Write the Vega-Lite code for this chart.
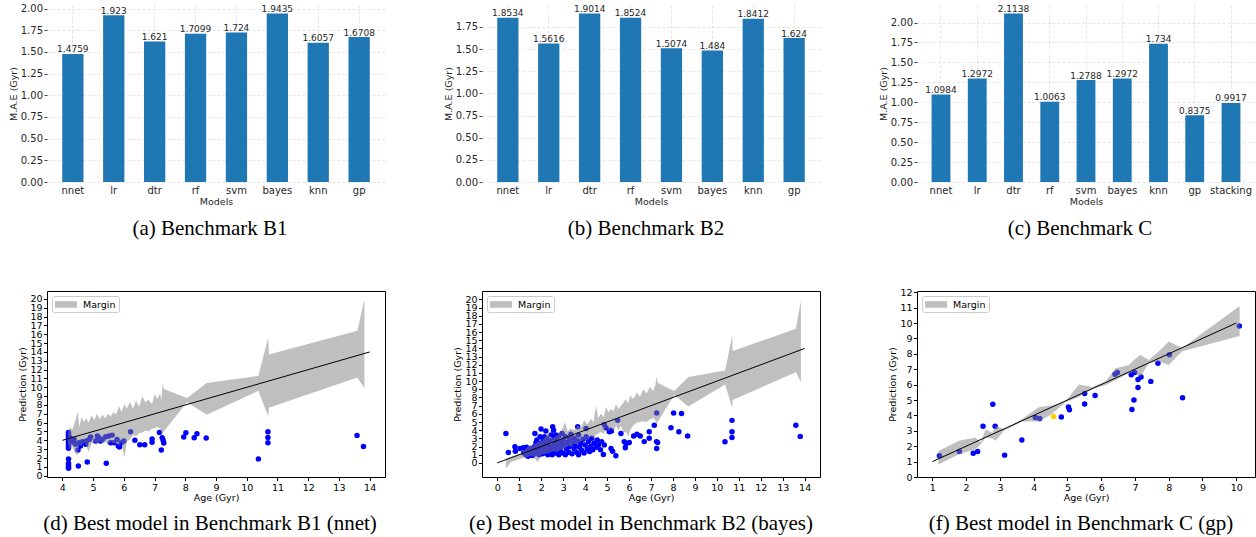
{
"$schema": "https://vega.github.io/schema/vega-lite/v6.json",
"background": "white",
"padding": {"left": 8, "top": 3, "right": 0, "bottom": 0},
"bounds": "flush",
"columns": 3,
"spacing": {"row": 109, "column": 97},
"resolve": {"scale": {"fill": "independent", "color": "independent"}, "legend": {"fill": "independent", "color": "independent"}},
"datasets": {
"barsA": [{"model":"nnet","mae":1.4759},{"model":"lr","mae":1.923},{"model":"dtr","mae":1.621},{"model":"rf","mae":1.7099},{"model":"svm","mae":1.724},{"model":"bayes","mae":1.9435},{"model":"knn","mae":1.6057},{"model":"gp","mae":1.6708}],
"barsB": [{"model":"nnet","mae":1.8534},{"model":"lr","mae":1.5616},{"model":"dtr","mae":1.9014},{"model":"rf","mae":1.8524},{"model":"svm","mae":1.5074},{"model":"bayes","mae":1.484},{"model":"knn","mae":1.8412},{"model":"gp","mae":1.624}],
"barsC": [{"model":"nnet","mae":1.0984},{"model":"lr","mae":1.2972},{"model":"dtr","mae":2.1138},{"model":"rf","mae":1.0063},{"model":"svm","mae":1.2788},{"model":"bayes","mae":1.2972},{"model":"knn","mae":1.734},{"model":"gp","mae":0.8375},{"model":"stacking","mae":0.9917}],
"ptsD": [{"x":4.2,"y":4.9},{"x":4.2,"y":4.7},{"x":4.2,"y":4.5},{"x":4.2,"y":4.3},{"x":4.2,"y":4.1},{"x":4.2,"y":3.9},{"x":4.2,"y":3.7},{"x":4.2,"y":3.5},{"x":4.2,"y":3.3},{"x":4.2,"y":3.1},{"x":4.2,"y":1.9},{"x":4.2,"y":1.4},{"x":4.2,"y":1.15},{"x":4.2,"y":0.95},{"x":4.2,"y":0.85},{"x":4.25,"y":4.3},{"x":4.3,"y":4.0},{"x":4.35,"y":3.8},{"x":4.27,"y":3.92},{"x":4.38,"y":4.1},{"x":4.43,"y":3.55},{"x":4.54,"y":3.73},{"x":4.59,"y":3.35},{"x":4.65,"y":3.84},{"x":4.76,"y":3.55},{"x":4.78,"y":3.92},{"x":4.87,"y":4.1},{"x":4.92,"y":4.37},{"x":5.08,"y":3.92},{"x":5.14,"y":4.48},{"x":5.19,"y":4.29},{"x":5.24,"y":3.92},{"x":5.3,"y":4.1},{"x":5.41,"y":4.4},{"x":5.51,"y":4.48},{"x":5.57,"y":3.73},{"x":5.62,"y":4.59},{"x":5.68,"y":3.73},{"x":5.78,"y":4.1},{"x":5.82,"y":3.35},{"x":5.86,"y":3.24},{"x":5.92,"y":3.73},{"x":6.0,"y":3.92},{"x":4.51,"y":2.9},{"x":4.52,"y":1.1},{"x":4.81,"y":1.55},{"x":5.43,"y":1.4},{"x":6.22,"y":4.97},{"x":6.36,"y":4.0},{"x":6.52,"y":3.5},{"x":6.68,"y":3.5},{"x":6.92,"y":3.77},{"x":6.92,"y":4.14},{"x":7.16,"y":4.9},{"x":7.22,"y":2.9},{"x":7.25,"y":4.3},{"x":7.3,"y":3.7},{"x":7.28,"y":4.0},{"x":7.95,"y":4.37},{"x":8.02,"y":4.86},{"x":8.29,"y":4.3},{"x":8.38,"y":4.74},{"x":8.68,"y":4.27},{"x":10.38,"y":1.9},{"x":10.69,"y":4.97},{"x":10.69,"y":4.33},{"x":10.69,"y":3.73},{"x":13.59,"y":4.56},{"x":13.8,"y":3.3}],
"bandD": [{"x":4.18,"y":3.6,"y2":4.9},{"x":4.25,"y":2.9,"y2":5.5},{"x":4.32,"y":3.3,"y2":5.2},{"x":4.4,"y":2.6,"y2":6.0},{"x":4.5,"y":2.3,"y2":7.2},{"x":4.55,"y":3.5,"y2":5.5},{"x":4.62,"y":3.3,"y2":6.6},{"x":4.7,"y":3.8,"y2":6.1},{"x":4.78,"y":3.4,"y2":6.5},{"x":4.85,"y":2.7,"y2":6.0},{"x":4.95,"y":3.6,"y2":6.8},{"x":5.05,"y":3.8,"y2":6.3},{"x":5.12,"y":3.5,"y2":7.0},{"x":5.22,"y":3.9,"y2":6.4},{"x":5.3,"y":3.6,"y2":6.9},{"x":5.4,"y":3.8,"y2":6.5},{"x":5.48,"y":3.5,"y2":7.0},{"x":5.58,"y":3.9,"y2":6.7},{"x":5.66,"y":3.6,"y2":7.2},{"x":5.75,"y":3.7,"y2":6.9},{"x":5.84,"y":3.4,"y2":7.9},{"x":5.92,"y":3.8,"y2":7.2},{"x":6.02,"y":2.0,"y2":8.1},{"x":6.1,"y":3.9,"y2":7.6},{"x":6.2,"y":4.1,"y2":8.3},{"x":6.3,"y":4.6,"y2":7.6},{"x":6.4,"y":4.5,"y2":8.5},{"x":6.5,"y":4.8,"y2":7.8},{"x":6.6,"y":4.9,"y2":9.0},{"x":6.7,"y":5.1,"y2":8.3},{"x":6.8,"y":5.0,"y2":8.6},{"x":6.92,"y":5.3,"y2":8.1},{"x":7.0,"y":5.4,"y2":9.2},{"x":7.1,"y":5.5,"y2":8.7},{"x":7.18,"y":5.4,"y2":9.3},{"x":7.22,"y":4.6,"y2":8.5},{"x":7.26,"y":4.8,"y2":10.4},{"x":7.3,"y":5.0,"y2":9.8},{"x":8.06,"y":8.3,"y2":8.8},{"x":8.7,"y":6.9,"y2":10.5},{"x":10.38,"y":9.6,"y2":11.3},{"x":10.7,"y":6.7,"y2":15.6},{"x":10.72,"y":7.7,"y2":13.7},{"x":13.6,"y":11.1,"y2":16.4},{"x":13.83,"y":9.9,"y2":19.9}],
"lineD": [{"x":4,"y":4},{"x":14,"y":14}],
"ptsE": [{"x":0.39,"y":3.6},{"x":0.5,"y":1.27},{"x":0.8,"y":1.96},{"x":0.82,"y":1.43},{"x":1.03,"y":1.76},{"x":1.18,"y":1.84},{"x":1.33,"y":1.92},{"x":1.53,"y":1.35},{"x":1.71,"y":3.6},{"x":1.76,"y":2.5},{"x":1.99,"y":4.15},{"x":2.21,"y":3.9},{"x":2.14,"y":3.2},{"x":2.52,"y":4.43},{"x":2.56,"y":4.0},{"x":2.67,"y":3.4},{"x":3.66,"y":4.43},{"x":4.04,"y":4.2},{"x":4.87,"y":4.7},{"x":4.95,"y":4.3},{"x":5.1,"y":3.8},{"x":5.15,"y":4.0},{"x":5.2,"y":3.9},{"x":5.48,"y":5.2},{"x":5.63,"y":3.6},{"x":5.78,"y":2.6},{"x":5.86,"y":2.3},{"x":4.83,"y":1.02},{"x":5.4,"y":0.86},{"x":5.18,"y":1.76},{"x":5.25,"y":1.43},{"x":4.87,"y":2.2},{"x":5.83,"y":1.84},{"x":6.01,"y":2.5},{"x":6.21,"y":3.3},{"x":6.36,"y":3.5},{"x":6.51,"y":3.3},{"x":6.69,"y":2.6},{"x":6.92,"y":3.0},{"x":6.92,"y":3.8},{"x":7.15,"y":4.6},{"x":7.26,"y":6.1},{"x":7.25,"y":2.6},{"x":7.3,"y":2.5},{"x":7.26,"y":1.76},{"x":7.91,"y":4.3},{"x":8.03,"y":6.1},{"x":8.27,"y":3.8},{"x":8.39,"y":6.05},{"x":8.67,"y":3.3},{"x":10.37,"y":2.58},{"x":10.69,"y":5.2},{"x":10.69,"y":3.8},{"x":10.69,"y":3.1},{"x":13.6,"y":4.6},{"x":13.8,"y":3.24},
{"x":1.2,"y":1.2},{"x":1.3,"y":1.0},{"x":1.35,"y":1.5},{"x":1.4,"y":0.8},{"x":1.45,"y":1.3},{"x":1.5,"y":1.0},{"x":1.55,"y":1.8},{"x":1.6,"y":1.2},{"x":1.6,"y":0.9},{"x":1.65,"y":1.5},{"x":1.7,"y":2.0},{"x":1.7,"y":1.1},{"x":1.75,"y":1.6},{"x":1.8,"y":2.8},{"x":1.8,"y":1.3},{"x":1.85,"y":2.2},{"x":1.9,"y":1.0},{"x":1.9,"y":1.8},{"x":1.95,"y":3.2},{"x":2.0,"y":2.4},{"x":2.0,"y":1.4},{"x":2.05,"y":1.1},{"x":2.1,"y":2.0},{"x":2.1,"y":2.8},{"x":2.15,"y":1.6},{"x":2.2,"y":1.2},{"x":2.2,"y":2.5},{"x":2.25,"y":3.0},{"x":2.3,"y":1.0},{"x":2.3,"y":2.2},{"x":2.35,"y":1.7},{"x":2.4,"y":1.3},{"x":2.4,"y":2.7},{"x":2.45,"y":3.4},{"x":2.5,"y":1.0},{"x":2.5,"y":2.0},{"x":2.55,"y":1.5},{"x":2.6,"y":2.4},{"x":2.6,"y":3.0},{"x":2.65,"y":1.2},{"x":2.7,"y":1.8},{"x":2.7,"y":2.8},{"x":2.75,"y":2.2},{"x":2.8,"y":1.0},{"x":2.8,"y":3.3},{"x":2.85,"y":1.5},{"x":2.9,"y":2.5},{"x":2.9,"y":1.9},{"x":2.95,"y":3.6},{"x":3.0,"y":1.2},{"x":3.0,"y":2.8},{"x":3.05,"y":2.2},{"x":3.1,"y":1.0},{"x":3.1,"y":3.2},{"x":3.15,"y":1.7},{"x":3.2,"y":2.5},{"x":3.25,"y":1.3},{"x":3.3,"y":2.9},{"x":3.3,"y":2.0},{"x":3.35,"y":3.5},{"x":3.4,"y":1.1},{"x":3.45,"y":2.4},{"x":3.5,"y":1.7},{"x":3.5,"y":3.0},{"x":3.55,"y":2.1},{"x":3.6,"y":1.3},{"x":3.65,"y":2.7},{"x":3.7,"y":1.0},{"x":3.7,"y":3.4},{"x":3.75,"y":1.9},{"x":3.8,"y":2.4},{"x":3.85,"y":1.5},{"x":3.9,"y":2.9},{"x":3.95,"y":1.2},{"x":4.0,"y":2.2},{"x":4.05,"y":3.2},{"x":4.1,"y":1.7},{"x":4.15,"y":2.6},{"x":4.2,"y":1.4},{"x":4.25,"y":2.0},{"x":4.3,"y":3.0},{"x":4.35,"y":1.6},{"x":4.4,"y":2.4},{"x":4.5,"y":1.9},{"x":4.55,"y":2.8},{"x":4.6,"y":2.2},{"x":4.7,"y":1.6},{"x":4.75,"y":2.6}],
"bandE": [{"x":0.39,"y":-0.7,"y2":0.53},{"x":0.62,"y":0.12,"y2":0.74},{"x":1.08,"y":0.53,"y2":1.15},{"x":1.38,"y":0.74,"y2":1.97},{"x":1.6,"y":0.9,"y2":2.1},{"x":1.84,"y":0.12,"y2":2.58},{"x":2.0,"y":1.0,"y2":2.6},{"x":2.29,"y":1.15,"y2":3.6},{"x":2.5,"y":1.4,"y2":3.0},{"x":2.75,"y":1.36,"y2":3.4},{"x":2.9,"y":1.6,"y2":3.8},{"x":3.08,"y":1.77,"y2":4.96},{"x":3.2,"y":2.1,"y2":3.9},{"x":3.35,"y":1.97,"y2":4.2},{"x":3.5,"y":2.3,"y2":4.0},{"x":3.66,"y":2.38,"y2":4.6},{"x":3.8,"y":2.6,"y2":4.3},{"x":3.96,"y":2.8,"y2":5.2},{"x":4.1,"y":3.0,"y2":4.7},{"x":4.26,"y":3.2,"y2":5.4},{"x":4.38,"y":3.0,"y2":5.0},{"x":4.49,"y":3.4,"y2":7.0},{"x":4.6,"y":3.6,"y2":5.5},{"x":4.72,"y":3.8,"y2":6.0},{"x":4.85,"y":3.5,"y2":5.6},{"x":4.95,"y":4.43,"y2":6.8},{"x":5.06,"y":3.9,"y2":6.2},{"x":5.18,"y":4.2,"y2":6.6},{"x":5.3,"y":3.8,"y2":6.3},{"x":5.4,"y":4.6,"y2":7.2},{"x":5.52,"y":4.0,"y2":6.6},{"x":5.63,"y":4.55,"y2":7.0},{"x":5.75,"y":3.7,"y2":7.4},{"x":5.86,"y":3.8,"y2":7.8},{"x":5.95,"y":3.2,"y2":7.2},{"x":6.05,"y":4.0,"y2":8.2},{"x":6.2,"y":4.6,"y2":7.8},{"x":6.35,"y":4.9,"y2":8.6},{"x":6.5,"y":5.0,"y2":8.1},{"x":6.65,"y":5.1,"y2":9.0},{"x":6.8,"y":5.0,"y2":8.5},{"x":6.95,"y":5.3,"y2":9.3},{"x":7.1,"y":5.5,"y2":8.8},{"x":7.2,"y":5.2,"y2":9.5},{"x":7.26,"y":4.8,"y2":10.6},{"x":7.3,"y":5.0,"y2":9.8},{"x":8.06,"y":8.3,"y2":8.8},{"x":8.7,"y":6.9,"y2":10.5},{"x":10.38,"y":9.6,"y2":11.3},{"x":10.7,"y":6.7,"y2":15.6},{"x":10.72,"y":7.7,"y2":13.7},{"x":13.6,"y":11.1,"y2":16.4},{"x":13.83,"y":9.9,"y2":19.9}],
"lineE": [{"x":0,"y":0},{"x":14,"y":14}],
"ptsF": [{"x":1.21,"y":1.38,"kind":"test"},{"x":1.8,"y":1.65,"kind":"test"},{"x":2.21,"y":1.54,"kind":"test"},{"x":2.34,"y":1.65,"kind":"test"},{"x":2.5,"y":3.29,"kind":"test"},{"x":2.79,"y":4.72,"kind":"test"},{"x":2.86,"y":3.3,"kind":"test"},{"x":3.14,"y":1.42,"kind":"test"},{"x":3.65,"y":2.41,"kind":"test"},{"x":4.05,"y":3.86,"kind":"test"},{"x":4.18,"y":3.8,"kind":"test"},{"x":4.59,"y":3.93,"kind":"highlight"},{"x":4.82,"y":3.9,"kind":"test"},{"x":5.03,"y":4.54,"kind":"test"},{"x":5.06,"y":4.37,"kind":"test"},{"x":5.51,"y":4.74,"kind":"test"},{"x":5.51,"y":5.42,"kind":"test"},{"x":5.82,"y":5.29,"kind":"test"},{"x":6.41,"y":6.67,"kind":"test"},{"x":6.48,"y":6.78,"kind":"test"},{"x":6.89,"y":6.64,"kind":"test"},{"x":6.99,"y":6.78,"kind":"test"},{"x":6.91,"y":4.39,"kind":"test"},{"x":6.97,"y":5.0,"kind":"test"},{"x":7.09,"y":6.33,"kind":"test"},{"x":7.18,"y":6.5,"kind":"test"},{"x":7.09,"y":5.82,"kind":"test"},{"x":7.47,"y":6.21,"kind":"test"},{"x":7.68,"y":7.39,"kind":"test"},{"x":8.02,"y":7.94,"kind":"test"},{"x":8.41,"y":5.15,"kind":"test"},{"x":10.09,"y":9.8,"kind":"test"}],
"bandF": [{"x":1.18,"y":0.81,"y2":1.69},{"x":1.79,"y":1.47,"y2":2.35},{"x":2.28,"y":1.8,"y2":2.57},{"x":2.43,"y":2.13,"y2":2.24},{"x":2.58,"y":2.57,"y2":3.1},{"x":2.78,"y":2.5,"y2":2.85},{"x":2.87,"y":2.35,"y2":3.33},{"x":3.12,"y":3.0,"y2":3.1},{"x":3.66,"y":3.6,"y2":3.77},{"x":4.16,"y":3.6,"y2":4.54},{"x":4.55,"y":4.1,"y2":4.65},{"x":4.94,"y":4.85,"y2":4.9},{"x":5.34,"y":5.2,"y2":6.0},{"x":5.73,"y":5.75,"y2":5.85},{"x":6.13,"y":5.96,"y2":6.2},{"x":6.42,"y":6.3,"y2":7.06},{"x":6.82,"y":6.73,"y2":7.28},{"x":6.97,"y":6.84,"y2":7.6},{"x":7.16,"y":6.5,"y2":7.94},{"x":7.41,"y":7.4,"y2":7.6},{"x":7.71,"y":7.5,"y2":8.16},{"x":8.0,"y":7.28,"y2":8.8},{"x":8.4,"y":8.16,"y2":8.38},{"x":10.1,"y":9.15,"y2":11.1}],
"lineF": [{"x":1,"y":1},{"x":10,"y":10}]
},
"concat": [
{
 "width": 338, "height": 177,
 "data": {"name": "barsA"},
 "encoding": {
  "x": {"field": "model", "type": "nominal", "sort": null, "scale": {"paddingInner": 0.48, "paddingOuter": 0.372},
        "axis": {"title": "Models", "labelAngle": 0, "ticks": false, "tickSize": 0, "domain": false, "grid": true, "gridDash": [3,2], "gridColor": "#dddddd", "gridWidth": 0.8, "labelPadding": 3, "labelFontSize": 10, "labelColor": "#262626", "titleColor": "#262626", "titlePadding": 1}},
  "y": {"field": "mae", "type": "quantitative", "scale": {"domain": [0, 2.0407], "nice": false},
        "axis": {"title": "M.A.E (Gyr)", "values": [0,0.25,0.5,0.75,1,1.25,1.5,1.75,2], "format": ".2f", "grid": true, "gridDash": [3,2], "gridColor": "#dddddd", "gridWidth": 0.8, "domain": false, "tickSize": 3, "tickColor": "#444444", "labelPadding": 1.5, "labelFontSize": 10, "labelOverlap": false, "labelColor": "#262626", "titleColor": "#262626", "titlePadding": 2}}
 },
 "layer": [
  {"mark": {"type": "bar", "color": "#1f77b4"}},
  {"mark": {"type": "text", "baseline": "alphabetic", "dy": -1.5, "fontSize": 9, "color": "#262626"}, "encoding": {"text": {"field": "mae", "type": "nominal"}}}
 ],
 "title": {"text": "(a) Benchmark B1", "orient": "bottom", "anchor": "middle", "frame": "group", "dx": -6, "offset": 12}
},
{
 "width": 338, "height": 177,
 "data": {"name": "barsB"},
 "encoding": {
  "x": {"field": "model", "type": "nominal", "sort": null, "scale": {"paddingInner": 0.48, "paddingOuter": 0.372},
        "axis": {"title": "Models", "labelAngle": 0, "ticks": false, "tickSize": 0, "domain": false, "grid": true, "gridDash": [3,2], "gridColor": "#dddddd", "gridWidth": 0.8, "labelPadding": 3, "labelFontSize": 10, "labelColor": "#262626", "titleColor": "#262626", "titlePadding": 1}},
  "y": {"field": "mae", "type": "quantitative", "scale": {"domain": [0, 1.9965], "nice": false},
        "axis": {"title": "M.A.E (Gyr)", "values": [0,0.25,0.5,0.75,1,1.25,1.5,1.75], "format": ".2f", "grid": true, "gridDash": [3,2], "gridColor": "#dddddd", "gridWidth": 0.8, "domain": false, "tickSize": 3, "tickColor": "#444444", "labelPadding": 1.5, "labelFontSize": 10, "labelOverlap": false, "labelColor": "#262626", "titleColor": "#262626", "titlePadding": 2}}
 },
 "layer": [
  {"mark": {"type": "bar", "color": "#1f77b4"}},
  {"mark": {"type": "text", "baseline": "alphabetic", "dy": -1.5, "fontSize": 9, "color": "#262626"}, "encoding": {"text": {"field": "mae", "type": "nominal"}}}
 ],
 "title": {"text": "(b) Benchmark B2", "orient": "bottom", "anchor": "middle", "frame": "group", "dx": -5, "offset": 12}
},
{
 "width": 338, "height": 177,
 "data": {"name": "barsC"},
 "encoding": {
  "x": {"field": "model", "type": "nominal", "sort": null, "scale": {"paddingInner": 0.48, "paddingOuter": 0.402},
        "axis": {"title": "Models", "labelAngle": 0, "ticks": false, "tickSize": 0, "domain": false, "grid": true, "gridDash": [3,2], "gridColor": "#dddddd", "gridWidth": 0.8, "labelPadding": 3, "labelFontSize": 10, "labelColor": "#262626", "titleColor": "#262626", "titlePadding": 1}},
  "y": {"field": "mae", "type": "quantitative", "scale": {"domain": [0, 2.2195], "nice": false},
        "axis": {"title": "M.A.E (Gyr)", "values": [0,0.25,0.5,0.75,1,1.25,1.5,1.75,2], "format": ".2f", "grid": true, "gridDash": [3,2], "gridColor": "#dddddd", "gridWidth": 0.8, "domain": false, "tickSize": 3, "tickColor": "#444444", "labelPadding": 1.5, "labelFontSize": 10, "labelOverlap": false, "labelColor": "#262626", "titleColor": "#262626", "titlePadding": 2}}
 },
 "layer": [
  {"mark": {"type": "bar", "color": "#1f77b4"}},
  {"mark": {"type": "text", "baseline": "alphabetic", "dy": -1.5, "fontSize": 9, "color": "#262626"}, "encoding": {"text": {"field": "mae", "type": "nominal"}}}
 ],
 "title": {"text": "(c) Benchmark C", "orient": "bottom", "anchor": "middle", "frame": "group", "dx": -6, "offset": 12}
},
{
 "width": 338, "height": 186,
 "view": {"stroke": "black", "strokeWidth": 1},
 "encoding": {
  "x": {"field": "x", "type": "quantitative", "scale": {"domain": [3.5, 14.5], "nice": false, "zero": false},
        "axis": {"title": "Age (Gyr)", "values": [4,5,6,7,8,9,10,11,12,13,14], "labelOverlap": false, "labelFlush": false, "labelBound": false, "tickSize": 3.5, "tickColor": "black", "labelPadding": 1.5, "labelColor": "black", "titleColor": "black", "titlePadding": 1, "grid": false, "domain": false}},
  "y": {"field": "y", "type": "quantitative", "scale": {"domain": [-0.15, 20.9], "nice": false, "zero": false},
        "axis": {"title": "Prediction (Gyr)", "values": [0,1,2,3,4,5,6,7,8,9,10,11,12,13,14,15,16,17,18,19,20], "labelOverlap": false, "labelFlush": false, "labelBound": false, "tickSize": 3.5, "tickColor": "black", "labelPadding": 1.5, "labelColor": "black", "titleColor": "black", "titlePadding": 2, "grid": false, "domain": false}}
 },
 "layer": [
  {"data": {"name": "ptsD"}, "mark": {"type": "circle", "size": 30, "opacity": 1, "color": "#0000ff"}},
  {"data": {"name": "bandD"}, "mark": {"type": "area", "opacity": 0.5},
   "encoding": {
    "y2": {"field": "y2"},
    "fill": {"datum": "Margin", "type": "nominal", "scale": {"range": ["#808080"]}, "legend": {"title": null, "orient": "top-left", "offset": 5, "padding": 3, "strokeColor": "#cccccc", "fillColor": "white", "cornerRadius": 2, "symbolType": "M-1,-0.6H3V0.6H-1Z", "symbolSize": 121, "symbolOpacity": 0.5, "symbolStrokeWidth": 0, "labelFontSize": 9.5, "labelColor": "black", "labelOffset": 17}}
   }},
  {"data": {"name": "lineD"}, "mark": {"type": "line", "color": "black", "strokeWidth": 1}, "encoding": {}}
 ],
 "title": {"text": "(d) Best model in Benchmark B1 (nnet)", "orient": "bottom", "anchor": "middle", "frame": "group", "dx": -6, "offset": 11}
},
{
 "width": 338, "height": 186,
 "view": {"stroke": "black", "strokeWidth": 1},
 "encoding": {
  "x": {"field": "x", "type": "quantitative", "scale": {"domain": [-0.7, 14.7], "nice": false, "zero": false},
        "axis": {"title": "Age (Gyr)", "values": [0,1,2,3,4,5,6,7,8,9,10,11,12,13,14], "labelOverlap": false, "labelFlush": false, "labelBound": false, "tickSize": 3.5, "tickColor": "black", "labelPadding": 1.5, "labelColor": "black", "titleColor": "black", "titlePadding": 1, "grid": false, "domain": false}},
  "y": {"field": "y", "type": "quantitative", "scale": {"domain": [-1.73, 21.03], "nice": false, "zero": false},
        "axis": {"title": "Prediction (Gyr)", "values": [0,1,2,3,4,5,6,7,8,9,10,11,12,13,14,15,16,17,18,19,20], "labelOverlap": false, "labelFlush": false, "labelBound": false, "tickSize": 3.5, "tickColor": "black", "labelPadding": 1.5, "labelColor": "black", "titleColor": "black", "titlePadding": 2, "grid": false, "domain": false}}
 },
 "layer": [
  {"data": {"name": "ptsE"}, "mark": {"type": "circle", "size": 30, "opacity": 1, "color": "#0000ff"}},
  {"data": {"name": "bandE"}, "mark": {"type": "area", "opacity": 0.5},
   "encoding": {
    "y2": {"field": "y2"},
    "fill": {"datum": "Margin", "type": "nominal", "scale": {"range": ["#808080"]}, "legend": {"title": null, "orient": "top-left", "offset": 5, "padding": 3, "strokeColor": "#cccccc", "fillColor": "white", "cornerRadius": 2, "symbolType": "M-1,-0.6H3V0.6H-1Z", "symbolSize": 121, "symbolOpacity": 0.5, "symbolStrokeWidth": 0, "labelFontSize": 9.5, "labelColor": "black", "labelOffset": 17}}
   }},
  {"data": {"name": "lineE"}, "mark": {"type": "line", "color": "black", "strokeWidth": 1}, "encoding": {}}
 ],
 "title": {"text": "(e) Best model in Benchmark B2 (bayes)", "orient": "bottom", "anchor": "middle", "frame": "group", "dx": -10, "offset": 11}
},
{
 "width": 338, "height": 186,
 "view": {"stroke": "black", "strokeWidth": 1},
 "encoding": {
  "x": {"field": "x", "type": "quantitative", "scale": {"domain": [0.545, 10.555], "nice": false, "zero": false},
        "axis": {"title": "Age (Gyr)", "values": [1,2,3,4,5,6,7,8,9,10], "labelOverlap": false, "labelFlush": false, "labelBound": false, "tickSize": 3.5, "tickColor": "black", "labelPadding": 1.5, "labelColor": "black", "titleColor": "black", "titlePadding": 1, "grid": false, "domain": false}},
  "y": {"field": "y", "type": "quantitative", "scale": {"domain": [0, 12.08], "nice": false, "zero": false},
        "axis": {"title": "Prediction (Gyr)", "values": [0,1,2,3,4,5,6,7,8,9,10,11,12], "labelOverlap": false, "labelFlush": false, "labelBound": false, "tickSize": 3.5, "tickColor": "black", "labelPadding": 1.5, "labelColor": "black", "titleColor": "black", "titlePadding": 2, "grid": false, "domain": false}}
 },
 "layer": [
  {"data": {"name": "ptsF"}, "mark": {"type": "circle", "size": 30, "opacity": 1},
   "encoding": {
    "color": {"field": "kind", "type": "nominal", "scale": {"domain": ["test", "highlight"], "range": ["#0000ff", "#ffd200"]}, "legend": null}
   }},
  {"data": {"name": "bandF"}, "mark": {"type": "area", "opacity": 0.5},
   "encoding": {
    "y2": {"field": "y2"},
    "fill": {"datum": "Margin", "type": "nominal", "scale": {"range": ["#808080"]}, "legend": {"title": null, "orient": "top-left", "offset": 5, "padding": 3, "strokeColor": "#cccccc", "fillColor": "white", "cornerRadius": 2, "symbolType": "M-1,-0.6H3V0.6H-1Z", "symbolSize": 121, "symbolOpacity": 0.5, "symbolStrokeWidth": 0, "labelFontSize": 9.5, "labelColor": "black", "labelOffset": 17}}
   }},
  {"data": {"name": "lineF"}, "mark": {"type": "line", "color": "black", "strokeWidth": 1}, "encoding": {}}
 ],
 "title": {"text": "(f) Best model in Benchmark C (gp)", "orient": "bottom", "anchor": "middle", "frame": "group", "dx": -5, "offset": 11}
}
],
"config": {
 "font": "DejaVu Sans",
 "view": {"stroke": null},
 "axis": {"labelFont": "DejaVu Sans", "titleFont": "DejaVu Sans", "labelFontSize": 9.5, "titleFontSize": 9.5, "titleFontWeight": "normal", "labelOverlap": false, "labelFlush": false},
 "title": {"font": "Liberation Serif", "fontSize": 21, "fontWeight": "normal", "color": "black", "baseline": "alphabetic"},
 "text": {"font": "DejaVu Sans"}
}
}
